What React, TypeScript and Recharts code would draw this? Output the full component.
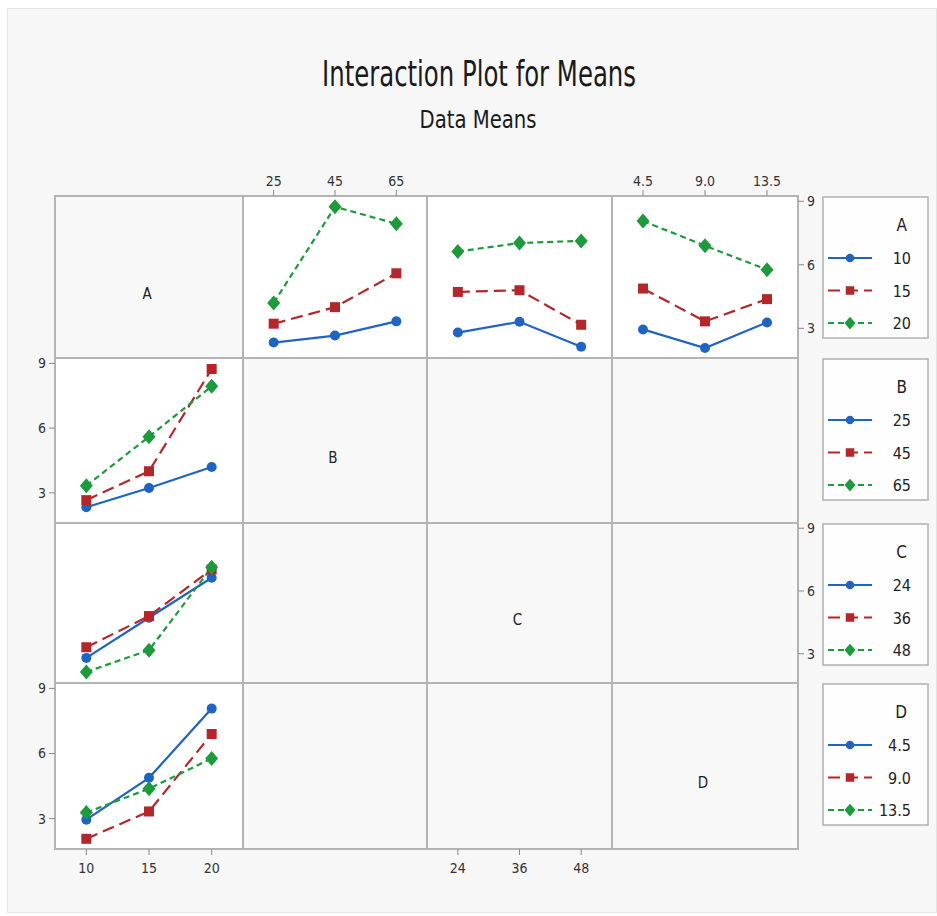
import React from 'react';
import { LineChart, Line, XAxis, YAxis } from 'recharts';

const FONT = '"Liberation Sans Narrow", "DejaVu Sans Condensed", "Liberation Sans", Arial, sans-serif';

// factors and their levels
const FACTORS = ['A', 'B', 'C', 'D'];
const A_LEVELS = [10, 15, 20];
const B_LEVELS = [25, 45, 65];
const C_LEVELS = [24, 36, 48];
const D_LEVELS = [4.5, 9, 13.5];
const A_LABELS = ['10', '15', '20'];
const B_LABELS = ['25', '45', '65'];
const C_LABELS = ['24', '36', '48'];
const D_LABELS = ['4.5', '9.0', '13.5'];

// cell means: rows = A level, columns = level of the other factor
const MEANS_AB = [
  [2.33, 2.66, 3.33],
  [3.22, 4.0, 5.6],
  [4.2, 8.74, 7.94],
];
const MEANS_AC = [
  [2.8, 3.31, 2.13],
  [4.72, 4.8, 3.17],
  [6.63, 7.03, 7.13],
];
const MEANS_AD = [
  [2.95, 2.07, 3.28],
  [4.88, 3.33, 4.38],
  [8.07, 6.9, 5.77],
];

const Y_TICKS = [3, 6, 9];
const Y_DOMAIN: [number, number] = [1.6, 9.25];

const LEVELS = [A_LEVELS, B_LEVELS, C_LEVELS, D_LEVELS];
const LABELS = [A_LABELS, B_LABELS, C_LABELS, D_LABELS];
const MEANS = [null, MEANS_AB, MEANS_AC, MEANS_AD];

// grid layout (pixel edges of the matrix cells)
const COLX = [55, 243, 427, 612, 798];
const ROWY = [196, 358, 523, 683, 849];
const PAD = 40;
const AXIS = 30;

const SERIES = [
  { key: 's0', color: '#1f64c2', dash: undefined as string | undefined, shape: 'circle' },
  { key: 's1', color: '#b3272b', dash: '12 6', shape: 'square' },
  { key: 's2', color: '#1d9a3c', dash: '6 4', shape: 'diamond' },
];

const Marker = ({ cx, cy, shape, color, size = 1 }: any) => {
  if (cx == null || cy == null) return null;
  if (shape === 'circle') return <circle cx={cx} cy={cy} r={5 * size} fill={color} />;
  if (shape === 'square')
    return <rect x={cx - 5 * size} y={cy - 5 * size} width={10 * size} height={10 * size} fill={color} />;
  const w = 6.5 * size;
  const h = 7.5 * size;
  return <polygon points={`${cx},${cy - h} ${cx + w},${cy} ${cx},${cy + h} ${cx - w},${cy}`} fill={color} />;
};

function cellData(r: number, c: number) {
  if (r === 0 && c > 0) {
    const m = MEANS[c]!;
    return LEVELS[c].map((x, j) => ({ x, s0: m[0][j], s1: m[1][j], s2: m[2][j] }));
  }
  if (c === 0 && r > 0) {
    const m = MEANS[r]!;
    return A_LEVELS.map((x, i) => ({ x, s0: m[i][0], s1: m[i][1], s2: m[i][2] }));
  }
  return LEVELS[c].map((x) => ({ x }));
}

const tickStyle = { fill: '#333', fontSize: 14, fontFamily: FONT };

const Cell = ({ r, c }: { r: number; c: number }) => {
  const hasData = (r === 0 && c > 0) || (c === 0 && r > 0);
  const top = r === 0 && (c === 1 || c === 3);
  const bottom = r === 3 && (c === 0 || c === 2);
  const left = c === 0 && (r === 1 || r === 3);
  const right = c === 3 && (r === 0 || r === 2);
  if (!hasData && !top && !bottom && !left && !right) return null;

  const w = COLX[c + 1] - COLX[c];
  const h = ROWY[r + 1] - ROWY[r];
  const lv = LEVELS[c];
  const step = lv[1] - lv[0];
  const labels = LABELS[c];

  return (
    <div style={{ position: 'absolute', left: COLX[c] - PAD, top: ROWY[r] - PAD }}>
      <LineChart
        width={w + PAD * 2}
        height={h + PAD * 2}
        data={cellData(r, c)}
        margin={{
          top: PAD - (top ? AXIS : 0),
          bottom: PAD - (bottom ? AXIS : 0),
          left: PAD - (left ? AXIS : 0),
          right: PAD - (right ? AXIS : 0),
        }}
      >
        <XAxis
          dataKey="x"
          type="number"
          domain={[lv[0] - step / 2, lv[2] + step / 2]}
          ticks={lv}
          interval={0}
          allowDataOverflow
          hide={!top && !bottom}
          orientation={top ? 'top' : 'bottom'}
          height={AXIS}
          axisLine={false}
          tickSize={6}
          tickMargin={top ? 4 : 8}
          tickLine={{ stroke: '#8a8a8a' }}
          tick={tickStyle}
          tickFormatter={(v: number) => labels[lv.indexOf(v)] ?? String(v)}
        />
        <YAxis
          type="number"
          domain={Y_DOMAIN}
          ticks={Y_TICKS}
          interval={0}
          allowDataOverflow
          hide={!left && !right}
          orientation={right ? 'right' : 'left'}
          width={AXIS}
          axisLine={false}
          tickSize={6}
          tickMargin={3}
          tickLine={{ stroke: '#8a8a8a' }}
          tick={tickStyle}
        />
        {hasData &&
          SERIES.map((s) => (
            <Line
              key={s.key}
              dataKey={s.key}
              type="linear"
              stroke={s.color}
              strokeWidth={2.2}
              strokeDasharray={s.dash}
              isAnimationActive={false}
              activeDot={false}
              dot={(p: any) => (
                <Marker key={`${s.key}-${p.index}`} cx={p.cx} cy={p.cy} shape={s.shape} color={s.color} />
              )}
            />
          ))}
      </LineChart>
    </div>
  );
};

const LegendBox = ({ f }: { f: number }) => {
  const top = ROWY[f];
  return (
    <svg width={108} height={145} style={{ position: 'absolute', left: 822, top: top }}>
      <rect x={1} y={1} width={105} height={141} fill="#fefefe" stroke="#b0b0b0" strokeWidth={1.5} />
      <text x={85} y={35} textAnchor="end" fontFamily={FONT} fontSize={17} fill="#222">
        {FACTORS[f]}
      </text>
      {SERIES.map((s, i) => {
        const y = 62 + i * 32.5;
        return (
          <g key={s.key}>
            <line x1={6} x2={50} y1={y} y2={y} stroke={s.color} strokeWidth={2} strokeDasharray={s.dash} />
            <Marker cx={28} cy={y} shape={s.shape} color={s.color} size={0.85} />
            <text x={89} y={y + 6} textAnchor="end" fontFamily={FONT} fontSize={16} fill="#222">
              {LABELS[f][i]}
            </text>
          </g>
        );
      })}
    </svg>
  );
};

export default function App() {
  const cells: React.ReactNode[] = [];
  for (let r = 0; r < 4; r++) {
    for (let c = 0; c < 4; c++) {
      const hasData = (r === 0 && c > 0) || (c === 0 && r > 0);
      cells.push(
        <div
          key={`bg-${r}-${c}`}
          style={{
            position: 'absolute',
            left: COLX[c] + 1,
            top: ROWY[r] + 1,
            width: COLX[c + 1] - COLX[c] - 2,
            height: ROWY[r + 1] - ROWY[r] - 2,
            background: hasData ? '#ffffff' : '#f8f8f8',
          }}
        />
      );
    }
  }

  return (
    <div style={{ position: 'relative', width: 937, height: 916, background: '#fff', overflow: 'hidden' }}>
      <style>{'body{margin:0}'}</style>
      <div
        style={{
          position: 'absolute',
          left: 7,
          top: 8,
          width: 928,
          height: 903,
          background: '#f7f7f7',
          border: '1px solid #e4e4e4',
        }}
      />
      {/* matrix frame */}
      <div
        style={{
          position: 'absolute',
          left: COLX[0] - 1,
          top: ROWY[0] - 1,
          width: COLX[4] - COLX[0] + 2,
          height: ROWY[4] - ROWY[0] + 2,
          background: '#b4b4b4',
        }}
      />
      {cells}
      {[0, 1, 2, 3].map((r) => [0, 1, 2, 3].map((c) => <Cell key={`c-${r}-${c}`} r={r} c={c} />))}
      <svg width={937} height={916} style={{ position: 'absolute', left: 0, top: 0, pointerEvents: 'none' }}>
        <text
          x={479}
          y={86}
          textAnchor="middle"
          fontFamily={FONT}
          fontSize={36}
          fill="#1a1a1a"
          textLength={314}
          lengthAdjust="spacingAndGlyphs"
        >
          Interaction Plot for Means
        </text>
        <text
          x={478}
          y={128}
          textAnchor="middle"
          fontFamily={FONT}
          fontSize={25}
          fill="#1a1a1a"
          textLength={117}
          lengthAdjust="spacingAndGlyphs"
        >
          Data Means
        </text>
        {FACTORS.map((f, i) => (
          <text
            key={f}
            x={(COLX[i] + COLX[i + 1]) / 2 - 2}
            y={(ROWY[i] + ROWY[i + 1]) / 2 + 22}
            textAnchor="middle"
            fontFamily={FONT}
            fontSize={15}
            fill="#222"
          >
            {f}
          </text>
        ))}
      </svg>
      {[0, 1, 2, 3].map((f) => (
        <LegendBox key={f} f={f} />
      ))}
    </div>
  );
}
